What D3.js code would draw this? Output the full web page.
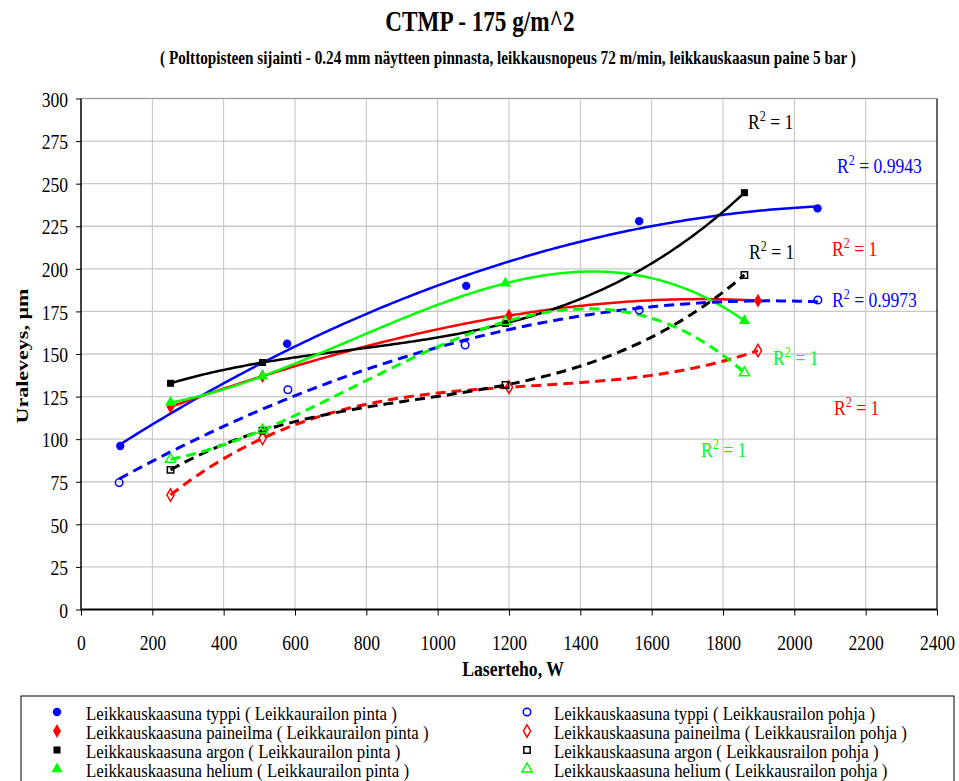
<!DOCTYPE html>
<html>
<head>
<meta charset="utf-8">
<script src="https://cdn.jsdelivr.net/npm/d3@7"></script>
<style>
  html, body { margin: 0; padding: 0; background: #fff; }
  svg { display: block; font-family: "Liberation Serif", "Times New Roman", serif; }
</style>
</head>
<body>
<svg id="chart" width="959" height="781"></svg>
<script>
// Groove width vs. laser power, CTMP 175 g/m^2
const xTickLabels = [0, 200, 400, 600, 800, 1000, 1200, 1400, 1600, 1800, 2000, 2200, 2400];
const yTickLabels = [0, 25, 50, 75, 100, 125, 150, 175, 200, 225, 250, 275, 300];

// Cutting gas nitrogen (typpi)
const typpiPintaX = [110, 578, 1080, 1565, 2065];
const typpiPintaY = [96, 156, 190, 228, 235.5];
const typpiPohjaX = [107, 580, 1077, 1565, 2066];
const typpiPohjaY = [74.5, 129, 155.3, 175.8, 181.7];
// Cutting gas compressed air (paineilma)
const paineilmaPintaX = [251, 509, 1200, 1898];
const paineilmaPintaY = [119, 137, 172.5, 181.3];
const paineilmaPohjaX = [251, 509, 1200, 1898];
const paineilmaPohjaY = [67.2, 100.5, 130.5, 152];
// Cutting gas argon
const argonPintaX = [251, 509, 1190, 1860];
const argonPintaY = [132.8, 145, 168, 244.7];
const argonPohjaX = [251, 509, 1190, 1860];
const argonPohjaY = [82, 105, 131.8, 196.4];
// Cutting gas helium
const heliumPintaX = [251, 509, 1190, 1860];
const heliumPintaY = [121.5, 137, 191.5, 169.5];
const heliumPohjaX = [251, 509, 1190, 1860];
const heliumPohjaY = [88.2, 105.4, 169, 139];

const legendLeft = [
  "Leikkauskaasuna typpi ( Leikkaurailon pinta )",
  "Leikkauskaasuna paineilma ( Leikkaurailon pinta )",
  "Leikkauskaasuna argon ( Leikkaurailon pinta )",
  "Leikkauskaasuna helium ( Leikkaurailon pinta )"
];
const legendRight = [
  "Leikkauskaasuna typpi ( Leikkausrailon pohja )",
  "Leikkauskaasuna paineilma ( Leikkausrailon pohja )",
  "Leikkauskaasuna argon ( Leikkausrailon pohja )",
  "Leikkauskaasuna helium ( Leikkausrailon pohja )"
];
const r2Values = ["1", "0.9943", "1", "1", "0.9973", "1", "1", "1"];

// ---- styling / layout ----
const BLUE = "#0000ff", RED = "#ff0000", BLACK = "#000000", GREEN = "#00ff00";
const FONT = "Liberation Serif";
const K = 0.8; // horizontal squeeze of the serif lettering

const series = [
  { x: typpiPintaX, y: typpiPintaY, color: BLUE, sym: d3.symbolCircle, size: 55, filled: true, order: 2 },
  { x: paineilmaPintaX, y: paineilmaPintaY, color: RED, sym: d3.symbolDiamond, size: 55, filled: true, order: 3 },
  { x: argonPintaX, y: argonPintaY, color: BLACK, sym: d3.symbolSquare, size: 50, filled: true, order: 3 },
  { x: heliumPintaX, y: heliumPintaY, color: GREEN, sym: d3.symbolTriangle, size: 55, filled: true, order: 3 },
  { x: typpiPohjaX, y: typpiPohjaY, color: BLUE, sym: d3.symbolCircle, size: 45, filled: false, order: 2 },
  { x: paineilmaPohjaX, y: paineilmaPohjaY, color: RED, sym: d3.symbolDiamond, size: 45, filled: false, order: 3 },
  { x: argonPohjaX, y: argonPohjaY, color: BLACK, sym: d3.symbolSquare, size: 40, filled: false, order: 3 },
  { x: heliumPohjaX, y: heliumPohjaY, color: GREEN, sym: d3.symbolTriangle, size: 45, filled: false, order: 3 }
];

const r2Layout = [
  { x: 748, y: 129, color: BLACK },
  { x: 837, y: 173, color: BLUE },
  { x: 749, y: 259, color: BLACK },
  { x: 832, y: 256, color: RED },
  { x: 832, y: 307, color: BLUE },
  { x: 773, y: 365, color: GREEN },
  { x: 834, y: 415, color: RED },
  { x: 701, y: 457, color: GREEN }
];

const svg = d3.select("#chart");
const X0 = 81, X1 = 937, Y0 = 609.5, Y1 = 98.5;
const x = d3.scaleLinear().domain([0, 2400]).range([X0, X1]);
const y = d3.scaleLinear().domain([0, 300]).range([Y0, Y1]);

// least-squares polynomial (Excel-style polynomial trendline)
function polyfit(xs, ys, order) {
  const s = 1000;
  const n = order + 1;
  const A = Array.from({ length: n }, () => new Array(n + 1).fill(0));
  xs.forEach((xv, i) => {
    const t = xv / s;
    for (let r = 0; r < n; r++) {
      for (let c = 0; c < n; c++) A[r][c] += Math.pow(t, r + c);
      A[r][n] += ys[i] * Math.pow(t, r);
    }
  });
  for (let i = 0; i < n; i++) {
    let p = i;
    for (let r = i + 1; r < n; r++) if (Math.abs(A[r][i]) > Math.abs(A[p][i])) p = r;
    [A[i], A[p]] = [A[p], A[i]];
    for (let r = 0; r < n; r++) {
      if (r === i) continue;
      const f = A[r][i] / A[i][i];
      for (let c = i; c <= n; c++) A[r][c] -= f * A[i][c];
    }
  }
  const coef = A.map((row, i) => row[n] / row[i]);
  return xv => coef.reduce((acc, cf, i) => acc + cf * Math.pow(xv / s, i), 0);
}

// gridlines
const grid = svg.append("g");
grid.selectAll("line.v").data(xTickLabels.slice(1, -1)).join("line")
  .attr("x1", d => x(d)).attr("x2", d => x(d)).attr("y1", Y1).attr("y2", Y0)
  .attr("stroke", "#c0c0c0").attr("stroke-width", 1);
grid.selectAll("line.h").data(yTickLabels.slice(1)).join("line")
  .attr("x1", X0).attr("x2", X1).attr("y1", d => y(d)).attr("y2", d => y(d))
  .attr("stroke", "#c8c8c8").attr("stroke-width", 1.3);

// frame
svg.append("line").attr("x1", X1).attr("x2", X1).attr("y1", Y1).attr("y2", Y0)
  .attr("stroke", "#000").attr("stroke-width", 1.2);

// axes
const xAxis = svg.append("g").attr("transform", `translate(0,${Y0})`)
  .call(d3.axisBottom(x).tickValues(xTickLabels).tickFormat(d3.format("d")).tickSize(6).tickSizeOuter(0));
const yAxis = svg.append("g").attr("transform", `translate(${X0},0)`)
  .call(d3.axisLeft(y).tickValues(yTickLabels).tickFormat(d3.format("d")).tickSize(5).tickSizeOuter(0));
[xAxis, yAxis].forEach(a => {
  a.attr("font-family", FONT).attr("font-size", 22);
  a.select(".domain").remove();
  a.selectAll(".tick line").attr("stroke", "#000").attr("stroke-width", 1);
  a.selectAll(".tick text").attr("font-family", FONT).attr("font-size", 22).attr("fill", "#000");
});
xAxis.selectAll(".tick text").attr("y", 41).attr("dy", 0).attr("transform", `scale(${K},1)`);
yAxis.selectAll(".tick text").attr("x", -13 / K).attr("dy", "0.35em").attr("transform", `scale(${K},1)`);

svg.append("line").attr("x1", X0).attr("x2", X0).attr("y1", Y1).attr("y2", Y0 + 1)
  .attr("stroke", "#000").attr("stroke-width", 1.5);
svg.append("line").attr("x1", X0).attr("x2", X1).attr("y1", Y0).attr("y2", Y0)
  .attr("stroke", "#000").attr("stroke-width", 2);
svg.append("line").attr("x1", X0).attr("x2", X1).attr("y1", Y1).attr("y2", Y1)
  .attr("stroke", "#999").attr("stroke-width", 1);

// trendlines
const lineGen = d3.line().x(d => x(d[0])).y(d => y(d[1]));
const trends = svg.append("g").attr("fill", "none");
series.forEach(s => {
  const f = polyfit(s.x, s.y, s.order);
  const lo = d3.min(s.x), hi = d3.max(s.x);
  const pts = d3.range(0, 201).map(i => { const xv = lo + (hi - lo) * i / 200; return [xv, f(xv)]; });
  trends.append("path").attr("d", lineGen(pts))
    .attr("stroke", s.color)
    .attr("stroke-width", s.filled ? 2.5 : 3)
    .attr("stroke-dasharray", s.filled ? null : "10,6");
});

// markers
const marks = svg.append("g");
series.forEach(s => {
  marks.selectAll(null).data(s.x.map((xv, i) => [xv, s.y[i]])).join("path")
    .attr("transform", d => `translate(${x(d[0])},${y(d[1])})`)
    .attr("d", d3.symbol().type(s.sym).size(s.size))
    .attr("fill", s.filled ? s.color : "none")
    .attr("stroke", s.color)
    .attr("stroke-width", s.filled ? 0 : 1.5);
});

// R^2 labels
r2Layout.forEach((p, i) => {
  const t = svg.append("g").attr("transform", `translate(${p.x},${p.y}) scale(${K},1)`)
    .append("text").attr("font-family", FONT).attr("font-size", 22).attr("fill", p.color);
  t.append("tspan").text("R");
  t.append("tspan").attr("font-size", 15).attr("dy", -8).text("2");
  t.append("tspan").attr("dy", 8).text(" = " + r2Values[i]);
});

// titles
function squeezedText(px, py, str, size, weight, anchor, rot, k) {
  const g = svg.append("g").attr("transform", `translate(${px},${py}) scale(${k || K},1)` + (rot ? ` rotate(${rot})` : ""));
  return g.append("text").attr("font-family", FONT).attr("font-size", size).attr("font-weight", weight)
    .attr("text-anchor", anchor).attr("fill", "#000").text(str);
}
squeezedText(480, 31, "CTMP - 175 g/m^2", 29, "bold", "middle");
squeezedText(508, 64, "( Polttopisteen sijainti - 0.24 mm näytteen pinnasta, leikkausnopeus 72 m/min, leikkauskaasun paine 5 bar )", 18, "bold", "middle", 0, 0.845);
squeezedText(513, 676, "Laserteho, W", 21, "bold", "middle", 0, 0.84);
squeezedText(28, 356, "Uraleveys, µm", 22, "bold", "middle", -90);

// legend
svg.append("rect").attr("x", 21).attr("y", 696).attr("width", 933).attr("height", 110)
  .attr("fill", "none").attr("stroke", "#000").attr("stroke-width", 1);
const legendCols = [{ mx: 57, tx: 86, labels: legendLeft, s: series.slice(0, 4) },
                    { mx: 527, tx: 554, labels: legendRight, s: series.slice(4) }];
legendCols.forEach(col => {
  col.labels.forEach((lab, i) => {
    const s = col.s[i];
    const my = 712 + 19 * i;
    svg.append("path").attr("transform", `translate(${col.mx},${my})`)
      .attr("d", d3.symbol().type(s.sym).size(s.size))
      .attr("fill", s.filled ? s.color : "none")
      .attr("stroke", s.color).attr("stroke-width", s.filled ? 0 : 1.5);
    squeezedText(col.tx, 720 + 19 * i, lab, 19, "normal", "start", 0, 0.887);
  });
});
</script>
</body>
</html>
